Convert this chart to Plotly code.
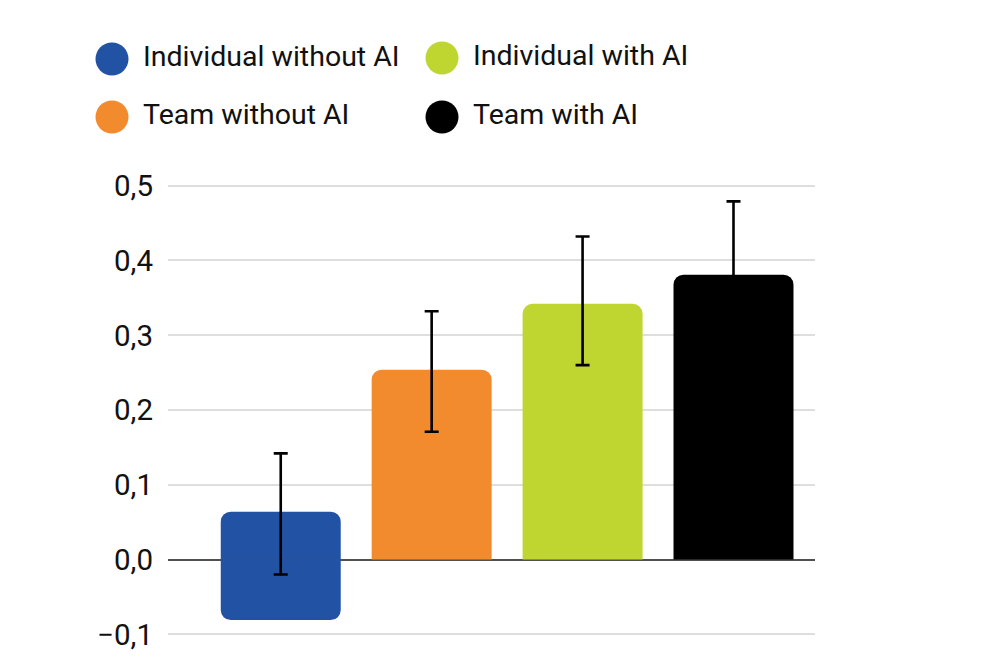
import plotly.graph_objects as go

# ---------------- data ----------------
categories = ["Individual without AI", "Team without AI", "Individual with AI", "Team with AI"]
bar_top = [0.064, 0.254, 0.342, 0.381]
bar_bottom = [-0.081, 0.0, 0.0, 0.0]
err_high = [0.142, 0.332, 0.432, 0.479]
err_low = [-0.020, 0.171, 0.260, 0.281]
colors = ["#2152a3", "#f28a2e", "#bfd630", "#000000"]
y_ticks = [-0.1, 0.0, 0.1, 0.2, 0.3, 0.4, 0.5]

# legend layout (order as in the reference legend), page pixels
legend_order = [0, 2, 1, 3]
legend_marker_x = [112, 442, 112, 442]
legend_marker_y = [59, 58, 117, 117]
legend_text_x = [143, 473, 143, 473]

FONT = "Roboto, Inter, Arial, sans-serif"
PAGE_W, PAGE_H = 995, 668
OFF = 8                      # page body margin
W, H = PAGE_W - 2 * OFF, PAGE_H - 2 * OFF

# plot geometry (page pixels)
X_LEFT_PX, X_RIGHT_PX = 168, 815
Y_TOP_PX, Y_BOT_PX = 185.7, 634.3      # pixel rows of 0.5 and -0.1
Y_MAX, Y_MIN = 0.5, -0.1
pad_px = 3
ppu = (Y_BOT_PX - Y_TOP_PX) / (Y_MAX - Y_MIN)
pad_val = pad_px / ppu
x_dom = [(X_LEFT_PX - OFF) / W, (X_RIGHT_PX - OFF) / W]
y_dom = [(H - (Y_BOT_PX + pad_px - OFF)) / H, (H - (Y_TOP_PX - pad_px - OFF)) / H]

fig = go.Figure()

# negative (lower) parts of bars
fig.add_trace(go.Bar(
    x=categories,
    y=[b if b < 0 else None for b in bar_bottom],
    marker=dict(color=colors, line=dict(width=0)),
    showlegend=False, hoverinfo="skip",
))
# positive parts with error bars
fig.add_trace(go.Bar(
    x=categories,
    y=bar_top,
    marker=dict(color=colors, line=dict(width=0)),
    error_y=dict(
        type="data", symmetric=False,
        array=[h - t for h, t in zip(err_high, bar_top)],
        arrayminus=[t - l for t, l in zip(bar_top, err_low)],
        color="#000000", thickness=2.6, width=7,
    ),
    showlegend=False,
))

# custom legend drawn on an overlay axis (page-pixel coordinates)
fig.add_trace(go.Scatter(
    x=legend_marker_x,
    y=legend_marker_y,
    mode="markers",
    marker=dict(size=33, color=[colors[k] for k in legend_order], line=dict(width=0)),
    xaxis="x2", yaxis="y2", showlegend=False, hoverinfo="skip", cliponaxis=False,
))
fig.add_trace(go.Scatter(
    x=legend_text_x,
    y=legend_marker_y,
    mode="text",
    text=[categories[k] for k in legend_order],
    textposition="middle right",
    textfont=dict(family=FONT, size=28.5, color="#111111"),
    xaxis="x2", yaxis="y2", showlegend=False, hoverinfo="skip", cliponaxis=False,
))

fig.update_layout(
    width=W, height=H,
    margin=dict(l=0, r=0, t=0, b=0, autoexpand=False),
    paper_bgcolor="white", plot_bgcolor="rgba(0,0,0,0)",
    barmode="relative", bargap=0.205, barcornerradius=10,
    separators=", ",
    showlegend=False,
    font=dict(family=FONT, color="#111111"),
    xaxis=dict(
        domain=x_dom,
        range=[-0.747, 3.54],
        showticklabels=False, showgrid=False, zeroline=False, showline=False, ticks="",
        automargin=False,
    ),
    yaxis=dict(
        domain=y_dom,
        range=[Y_MIN - pad_val, Y_MAX + pad_val],
        tickvals=y_ticks, tickformat=".1f",
        tickfont=dict(family=FONT, size=29.5, color="#111111"),
        showgrid=True, gridcolor="#dedede", gridwidth=1.5,
        zeroline=True, zerolinecolor="#505050", zerolinewidth=1.6,
        showline=False, ticks="", ticklabelstandoff=14,
        automargin=False,
    ),
    xaxis2=dict(domain=[0, 1], range=[OFF, OFF + W], visible=False, fixedrange=True,
                automargin=False),
    yaxis2=dict(domain=[0, 1], range=[OFF + H, OFF], visible=False, fixedrange=True,
                anchor="x2", automargin=False),
)

fig.write_html("out.html")
